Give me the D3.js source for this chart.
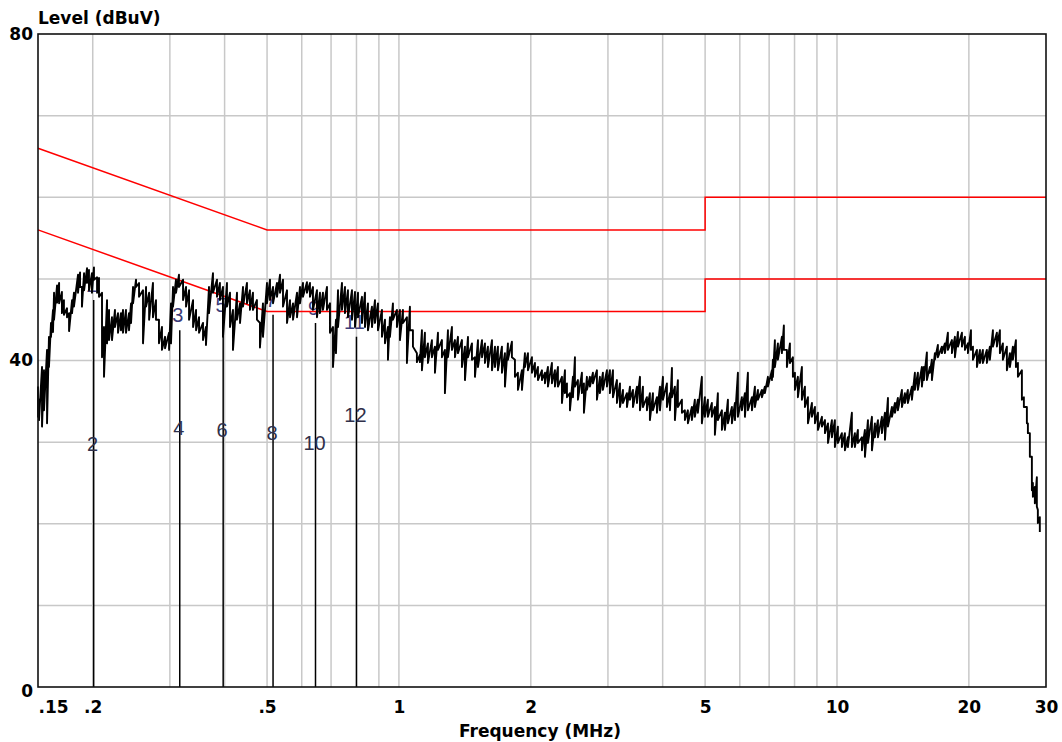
<!DOCTYPE html>
<html>
<head>
<meta charset="utf-8">
<script src="https://cdn.jsdelivr.net/npm/d3@7"></script>
<style>
	body { margin: 0; background: #fff; }
	svg { display: block; }
	.tick-label { font-family: "DejaVu Sans", sans-serif; font-weight: bold; font-size: 17px; fill: #000; }
	.marker-label { font-family: "Liberation Sans", Arial, sans-serif; font-size: 20px; }
</style>
</head>
<body>
<svg id="chart" width="1062" height="742"></svg>
<script>
// sweep frequencies (MHz), with the max and min level seen in each bin (dBuV)
var sweepFreq = [
	0.150,0.1508,0.1532,0.1548,0.1573,0.1589,0.1606,0.1623,0.1632,0.1658,
	0.1676,0.1701,0.1719,0.1747,0.1766,0.1794,0.1812,0.1851,0.1871,0.1890,
	0.1911,0.1941,0.1961,0.1992,0.2013,0.2046,0.2067,0.2100,0.2122,0.2156,
	0.2179,0.2213,0.2248,0.2284,0.2320,0.2345,0.2382,0.2420,0.2446,0.2472,
	0.2511,0.2551,0.2605,0.2647,0.2690,0.2745,0.2789,0.2833,0.2878,0.2925,
	0.2987,0.3018,0.3050,0.3098,0.3147,0.3215,0.3266,0.3318,0.3389,0.3443,
	0.3497,0.3571,0.3627,0.3685,0.3763,
	0.3843,0.3903,0.3966,0.4050,0.4115,0.4180,0.4269,0.4338,0.4406,0.4499,
	0.4570,0.4643,0.4741,0.4817,0.4894,0.4998,0.5078,0.5159,0.5268,0.5352,
	0.5437,0.5553,0.5641,0.5731,0.5853,0.5945,0.6039,0.6167,0.6265,0.6365,
	0.6500,0.6603,0.6708,0.6851,0.6960,0.7071,0.7183,0.7260,0.7413,0.7531,
	0.7650,0.7813,0.7938,0.8064,0.8235,0.8366,0.8498,0.8679,0.8817,0.8957,
	0.9147,0.9293,0.9440,
	0.9538,0.9690,0.9895,1.0053,1.0213,1.0429,1.0595,1.0764,1.0991,1.1166,
	1.1285,1.1463,1.1647,1.1894,1.2084,1.2277,1.2536,1.2735,1.2939,1.3213,
	1.3424,1.3638,1.3927,1.4149,1.4375,1.4680,1.4913,1.5151,1.5475,1.5717,
	1.5966,1.6309,1.6568,1.6827,1.7184,1.7458,1.7734,1.8110,1.8400,1.8692,
	1.9092,1.9394,1.9704,2.0121,2.0439,2.0767,2.1207,2.1543,2.1885,2.2349,
	2.2706,2.3066,2.3560,
	2.3933,2.4185,2.4568,2.4960,2.5222,2.5622,2.6166,2.6442,2.6862,2.7290,
	2.7722,2.8314,2.8762,2.9217,2.9843,3.0315,3.0801,3.1454,3.1958,3.2464,
	3.3151,3.3683,3.4215,3.4948,3.5500,3.6058,3.6822,3.7404,3.8004,3.8810,
	3.9433,4.0056,4.0904,4.1559,4.2000,4.2658,4.3333,4.4259,4.4960,4.5671,
	4.6638,4.7375,4.8134,4.9154,4.9941,5.0731,5.1804,5.2635,5.3467,5.4612,
	5.5476,5.6364,5.7557,5.8479,
	5.9403,6.0661,6.1634,6.2608,6.3948,6.4959,6.5999,6.7397,6.8461,6.9557,
	7.1030,7.1407,7.2151,7.3307,7.4859,7.5640,7.6852,7.8083,7.9317,8.0162,
	8.1429,8.3155,8.4488,8.5840,8.7661,8.9050,9.0477,9.2395,9.3875,9.5380,
	9.7363,9.8900,10.048,10.261,10.425,10.590,10.814,10.987,11.161,11.401,
	11.581,11.767,12.016,12.206,12.402,12.665,12.868,13.071,13.348,13.562,
	13.772,14.068,14.289,14.514,14.826,15.060,
	15.300,15.625,15.789,16.040,16.297,16.468,16.731,16.996,17.356,17.634,
	17.913,18.297,18.587,18.885,19.285,19.590,19.903,20.222,20.433,20.866,
	21.200,21.528,21.988,22.336,22.694,23.174,23.545,23.917,24.424,24.815,
	25.208,25.612,25.883,26.430,26.706,27.132,27.276,27.560,27.854,28.002,
	28.293,28.591,28.743,29.042
];
var levelMax = [
	36.8,35.2,39.2,38.8,41.3,42.9,44.6,46.2,48.3,49.2,
	49.5,48.4,47.4,46.4,45.8,47.4,48.3,50.5,50.8,49.0,
	50.7,51.3,51.1,50.7,51.4,50.2,50.1,48.3,44.1,47.4,
	46.2,45.3,46.2,45.8,45.8,46.2,46.2,45.8,47.0,49.0,
	49.9,49.5,48.6,49.0,48.3,49.5,47.4,45.0,44.1,42.9,
	43.4,47.0,49.0,49.9,50.5,49.9,49.0,48.6,47.4,46.2,
	45.3,44.6,44.1,49.0,50.7,
	49.9,49.5,49.0,49.5,48.3,46.2,48.3,47.0,49.0,49.5,
	48.6,48.3,47.4,44.6,47.0,49.5,49.9,49.0,49.5,50.5,
	49.9,48.6,47.4,47.0,48.3,49.0,49.5,49.6,49.5,49.0,
	48.6,48.3,48.3,49.0,47.0,44.1,45.0,48.6,49.5,49.0,
	48.6,48.6,48.4,48.3,47.8,48.3,47.0,46.6,47.4,47.0,
	46.2,45.0,44.1,
	45.3,47.0,46.2,46.2,46.2,45.3,46.6,43.7,40.9,40.7,
	43.7,43.4,42.1,42.5,41.7,43.4,42.5,41.3,43.7,44.1,
	42.5,42.9,42.5,41.7,42.9,42.1,40.4,42.5,42.5,42.1,
	41.7,42.5,41.7,41.7,41.7,40.9,42.1,42.3,40.1,38.5,
	38.8,40.9,40.9,40.4,39.7,39.2,38.8,38.5,39.2,39.7,
	38.8,39.2,38.0,
	38.8,37.2,36.0,38.0,40.4,37.6,38.5,37.2,38.0,38.0,
	38.5,38.8,38.0,38.5,38.8,38.8,38.8,37.6,37.2,36.4,
	36.0,36.8,36.4,36.8,38.0,36.8,35.5,36.0,36.0,35.5,
	36.8,38.0,37.2,36.0,39.1,36.8,37.6,35.2,33.9,33.9,
	34.3,35.2,35.2,38.0,35.5,35.2,34.8,34.3,36.0,33.9,
	33.6,35.2,34.3,34.8,
	38.5,35.5,36.0,38.5,35.5,36.8,36.4,36.4,36.8,38.0,
	38.8,40.1,42.5,42.1,42.9,44.3,41.3,42.1,40.4,38.5,
	38.0,39.2,36.8,35.5,34.8,34.3,33.6,33.1,32.7,32.3,
	32.7,32.7,31.9,31.1,31.1,30.6,33.6,31.1,31.5,30.6,
	31.5,32.7,33.1,32.3,32.7,33.1,33.6,35.4,34.3,34.8,
	35.4,36.4,36.0,36.4,36.8,38.5,
	38.5,39.2,39.2,41.0,39.2,40.1,40.9,41.9,41.7,42.1,
	43.4,42.5,42.9,43.5,43.4,42.9,42.1,43.7,41.7,41.3,
	41.3,41.3,41.3,41.7,43.7,43.4,43.7,42.1,41.7,40.9,
	41.7,42.5,39.7,38.8,35.5,34.3,32.3,31.1,28.2,25.0,
	24.5,25.7,21.7,20.8
];
var levelMin = [
	33.1,32.7,31.9,33.9,32.3,39.2,42.9,43.5,45.0,47.1,
	47.0,45.8,45.6,45.3,43.6,45.8,46.6,48.3,49.0,46.6,
	48.6,49.5,48.6,48.3,49.9,48.3,47.8,40.4,38.0,42.1,
	42.5,42.5,44.1,43.4,43.7,43.4,43.4,43.7,44.6,47.0,
	49.0,47.8,42.1,46.6,45.0,45.3,45.0,42.1,41.3,41.5,
	41.3,42.1,46.6,48.3,49.0,47.4,46.6,45.0,44.1,43.7,
	43.4,42.5,41.9,45.8,48.3,
	47.8,47.4,42.9,46.6,44.1,41.3,45.0,44.6,46.6,47.0,
	46.2,46.2,45.0,41.6,42.9,47.0,47.4,47.0,47.8,48.3,
	46.6,44.6,45.3,45.0,45.3,47.0,47.8,48.3,47.8,46.2,
	45.3,45.8,46.2,46.2,43.4,39.2,40.9,44.1,46.2,45.8,
	45.3,45.0,44.1,45.3,44.6,44.1,43.7,44.1,44.6,43.7,
	42.9,42.1,40.1,
	42.9,45.0,44.1,42.5,44.6,39.7,43.7,41.7,39.8,39.8,
	38.8,40.4,39.7,40.4,38.5,41.3,40.4,36.0,40.4,41.3,
	40.4,40.9,39.2,37.6,40.4,40.1,38.0,39.2,40.4,39.7,
	39.2,38.8,39.2,38.8,38.5,36.8,40.1,40.4,38.0,36.4,
	36.4,39.2,38.8,38.5,38.0,37.6,37.6,37.2,36.8,37.2,
	36.8,36.8,34.8,
	36.0,35.5,33.9,35.5,36.8,35.2,36.0,33.6,36.4,36.8,
	37.2,35.2,36.0,36.4,36.8,36.0,35.5,34.8,34.3,34.8,
	34.3,35.2,34.3,34.8,33.9,34.3,33.9,32.7,33.9,33.6,
	33.9,35.2,34.3,33.9,35.5,32.7,34.3,33.6,32.7,32.3,
	32.7,33.1,33.6,32.3,33.1,33.1,33.1,30.9,32.7,31.5,
	31.5,32.3,32.3,32.7,
	33.1,33.9,33.1,33.9,33.9,34.3,35.2,35.5,36.0,36.8,
	37.6,38.0,39.2,40.1,40.9,41.3,39.2,39.7,38.0,36.4,
	35.5,35.2,34.3,32.3,33.1,32.3,31.5,31.9,31.1,29.9,
	30.6,29.4,29.9,29.4,29.0,29.4,29.4,29.4,29.9,29.0,
	28.2,29.9,29.0,30.6,30.6,31.1,30.3,31.9,33.1,33.6,
	33.9,34.3,34.8,34.8,35.2,36.4,
	36.4,36.8,37.6,37.6,38.5,37.6,40.1,40.4,40.9,40.9,
	41.3,40.9,40.4,41.7,41.7,41.3,40.9,41.3,40.1,39.2,
	39.7,39.7,39.7,40.1,41.7,41.7,40.9,40.1,38.8,39.2,
	40.1,39.2,38.0,35.2,34.3,32.3,31.1,28.2,24.1,23.3,
	22.5,22.1,20.1,19.0
];

// limit lines (MHz, dBuV)
var qpLimit = [[0.15, 66], [0.5, 56], [5, 56], [5, 60], [30, 60]];
var avLimit = [[0.15, 56], [0.5, 46], [5, 46], [5, 50], [30, 50]];

// markers: odd numbers are quasi-peak, even numbers average
var markerFreq = [0.201, 0.316, 0.397, 0.516, 0.645, 0.800];
var markerQP = [47.4, 43.7, 45.0, 45.6, 44.6, 42.9];
var markerAV = [28.9, 30.9, 30.6, 30.3, 29.0, 32.5];

var xTicks = [0.15, 0.2, 0.5, 1, 2, 5, 10, 20, 30];
var xTickLabels = ['.15', '.2', '.5', '1', '2', '5', '10', '20', '30'];
var xGrid = [0.2, 0.3, 0.4, 0.5, 0.6, 0.7, 0.8, 0.9, 1, 2, 3, 4, 5, 6, 7, 8, 9, 10, 20];
var yTicks = [0, 40, 80];
var yGrid = [10, 20, 30, 40, 50, 60, 70];

var margin = {left: 38, top: 34, right: 16, bottom: 55};
var svg = d3.select('#chart');
var width = 1062 - margin.left - margin.right;
var height = 742 - margin.top - margin.bottom;

var x = d3.scaleLog().domain([0.15, 30]).range([0, width]);
var y = d3.scaleLinear().domain([0, 80]).range([height, 0]);

var g = svg.append('g').attr('transform', 'translate(' + margin.left + ',' + margin.top + ')');

// grid
g.append('g').selectAll('line').data(xGrid).enter().append('line')
	.attr('x1', x).attr('x2', x).attr('y1', 0).attr('y2', height)
	.attr('stroke', '#c8c8c8').attr('stroke-width', 1.5);
g.append('g').selectAll('line').data(yGrid).enter().append('line')
	.attr('x1', 0).attr('x2', width).attr('y1', y).attr('y2', y)
	.attr('stroke', '#c8c8c8').attr('stroke-width', 1.5);

// marker lines down to the axis
g.append('g').selectAll('line').data(markerFreq).enter().append('line')
	.attr('x1', function(d) { return x(d); })
	.attr('x2', function(d) { return x(d); })
	.attr('y1', function(d, i) { return y(markerQP[i]); })
	.attr('y2', height)
	.attr('stroke', '#000').attr('stroke-width', 1.5);

// marker numbers
var labels = g.append('g');
markerFreq.forEach(function(f, i) {
	labels.append('text').attr('class', 'marker-label')
		.attr('x', x(f) - 2).attr('y', y(markerQP[i]) - 8)
		.attr('text-anchor', 'middle').attr('fill', '#3c3c78')
		.text(2 * i + 1);
	labels.append('text').attr('class', 'marker-label')
		.attr('x', x(f) - 1).attr('y', y(markerAV[i]))
		.attr('text-anchor', 'middle').attr('fill', '#30304a')
		.text(2 * i + 2);
});

// limit lines
var limitLine = d3.line().x(function(d) { return x(d[0]); }).y(function(d) { return y(d[1]); });
[qpLimit, avLimit].forEach(function(lim) {
	g.append('path').attr('d', limitLine(lim))
		.attr('fill', 'none').attr('stroke', '#ff0000').attr('stroke-width', 1.5);
});

// measured trace: max then min of every bin
var tracePoints = [];
for (var c = 0; c < sweepFreq.length; c++) {
	tracePoints.push([sweepFreq[c], levelMax[c]]);
	tracePoints.push([sweepFreq[c], levelMin[c]]);
}
g.append('path').attr('d', limitLine(tracePoints))
	.attr('fill', 'none').attr('stroke', '#000').attr('stroke-width', 1.9)
	.attr('stroke-linejoin', 'round');

// frame
g.append('rect').attr('width', width).attr('height', height)
	.attr('fill', 'none').attr('stroke', '#111').attr('stroke-width', 1.6);

// axes
var xAxis = d3.axisBottom(x).tickValues(xTicks).tickSize(0).tickPadding(14)
	.tickFormat(function(d, i) { return xTickLabels[i]; });
var xg = g.append('g').attr('transform', 'translate(0,' + height + ')').call(xAxis);
xg.select('.domain').remove();
xg.selectAll('text').attr('class', 'tick-label').attr('dy', '0.71em')
	.attr('text-anchor', function(d, i) { return i === 0 ? 'start' : 'middle'; });

var yAxis = d3.axisLeft(y).tickValues(yTicks).tickSize(0).tickPadding(5);
var yg = g.append('g').call(yAxis);
yg.select('.domain').remove();
yg.selectAll('text').attr('class', 'tick-label');
yg.selectAll('.tick').filter(function(d) { return d === 0; }).select('text').attr('dy', '0.55em');

// titles
svg.append('text').attr('class', 'tick-label')
	.attr('x', margin.left).attr('y', 24).text('Level (dBuV)');
svg.append('text').attr('class', 'tick-label')
	.attr('x', 540).attr('y', 737).attr('text-anchor', 'middle').text('Frequency (MHz)');
</script>
</body>
</html>
